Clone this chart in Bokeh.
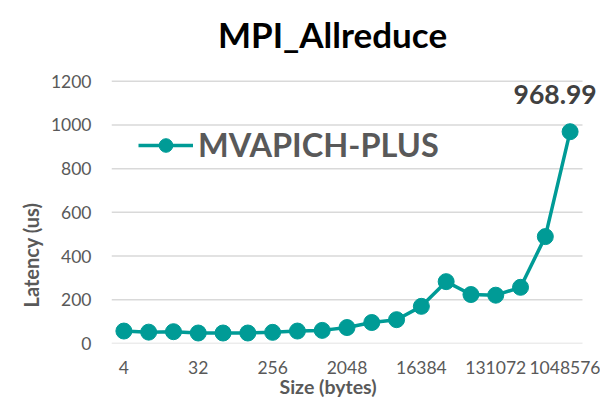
from bokeh.plotting import figure
from bokeh.models import (ColumnDataSource, Label, Legend, LegendItem, FixedTicker,
                          Range1d, Title)
from bokeh.embed import file_html
from bokeh.resources import INLINE

# ---- data ----
sizes = ["4", "8", "16", "32", "64", "128", "256", "512", "1024", "2048", "4096",
         "8192", "16384", "32768", "65536", "131072", "262144", "524288", "1048576"]
latency = [57, 52, 54, 48, 48, 48, 51, 57, 60, 73, 96, 109, 170, 283, 224, 221, 257, 489, 968.99]
shown_ticks = ["4", "32", "256", "2048", "16384", "131072", "1048576"]
y_ticks = [0, 200, 400, 600, 800, 1000, 1200]
series_name = "MVAPICH-PLUS"
peak_label = "968.99"
title_text = "MPI_Allreduce"
x_title = "Size (bytes)"
y_title = "Latency (us)"

# ---- style / layout ----
FONT = "Lato"
TEAL = "#009B96"
GREY = "#595959"

W, H = 600, 398
LEFT, BOTTOM = 111, 55
FRAME_W, FRAME_H = W - LEFT, H - BOTTOM
PLOT_W_PX = 471          # width of the category area in px
GRID_H_PX = 262.3        # height of the 0..1200 area in px
n = len(sizes)
cat_px = PLOT_W_PX / n
x_end = -0.5 + FRAME_W / cat_px
y_end = y_ticks[-1] * FRAME_H / GRID_H_PX

xs = list(range(n))
src = ColumnDataSource(dict(x=xs, y=latency))

p = figure(width=W, height=H, output_backend="svg", toolbar_location=None,
           x_range=Range1d(-0.5, x_end), y_range=Range1d(0, y_end),
           min_border_left=LEFT, min_border_right=0, min_border_top=0,
           min_border_bottom=BOTTOM)
p.outline_line_color = None
p.background_fill_color = "white"
p.border_fill_color = "white"
p.xgrid.grid_line_color = None
p.ygrid.grid_line_color = None

# horizontal gridlines over the category area only
grid_src = ColumnDataSource(dict(x0=[-0.5] * len(y_ticks), x1=[n - 0.5] * len(y_ticks),
                                 y=y_ticks))
p.segment(x0="x0", x1="x1", y0="y", y1="y", source=grid_src,
          line_color="#D9D9D9", line_width=1.5)

tick_idx = [sizes.index(s) for s in shown_ticks]
p.xaxis.ticker = FixedTicker(ticks=tick_idx)
p.xaxis.major_label_overrides = {i: sizes[i] for i in tick_idx}
p.yaxis.ticker = FixedTicker(ticks=y_ticks)

for ax in (p.xaxis[0], p.yaxis[0]):
    ax.axis_line_color = None
    ax.major_tick_line_color = None
    ax.minor_tick_line_color = None
    ax.major_tick_out = 0
    ax.major_tick_in = 0
    ax.minor_tick_out = 0
    ax.major_label_text_font = FONT
    ax.major_label_text_font_size = "17.5px"
    ax.major_label_text_color = GREY
p.xaxis.major_label_standoff = 17
p.yaxis.major_label_standoff = 20

# axis titles as side titles, placed like the original
p.add_layout(Title(text=y_title, align="left", offset=36, standoff=9,
                   text_font=FONT, text_font_size="20px", text_font_style="bold",
                   text_color=GREY), "left")
p.add_layout(Title(text=x_title, align="left", offset=168, standoff=-7,
                   text_font=FONT, text_font_size="19.5px", text_font_style="bold",
                   text_color=GREY), "below")

ln = p.line("x", "y", source=src, line_color=TEAL, line_width=3.5)
sc = p.scatter("x", "y", source=src, size=16, fill_color=TEAL, line_color=TEAL)

legend = Legend(items=[LegendItem(label=series_name, renderers=[ln, sc])],
                location=(27, 179), glyph_width=55, glyph_height=34, label_standoff=5,
                label_text_font=FONT, label_text_font_size="32.5px", label_text_font_style="bold",
                label_text_color=GREY, background_fill_alpha=0, border_line_alpha=0,
                padding=0, margin=0, label_height=34)
p.add_layout(legend, "center")

p.add_layout(Label(x=xs[-1], y=latency[-1], text=peak_label, text_align="center",
                   text_baseline="alphabetic", x_offset=-15, y_offset=37, text_font=FONT,
                   text_font_size="26.5px", text_font_style="bold", text_color="#404040"))

p.add_layout(Label(x=221, y=310, x_units="screen", y_units="screen", text=title_text,
                   text_align="center", text_baseline="middle", text_font=FONT,
                   text_font_size="35px", text_font_style="bold", text_color="black"))

open("out.html", "w").write(file_html(p, INLINE))
